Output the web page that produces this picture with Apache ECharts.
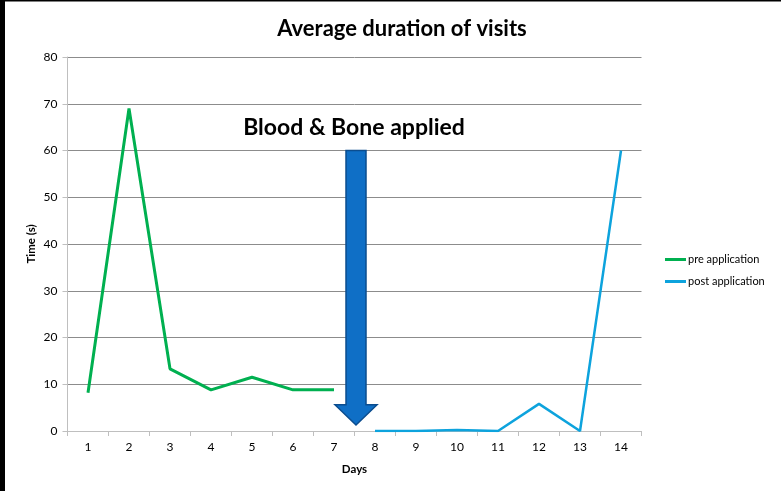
<!DOCTYPE html>
<html><head><meta charset="utf-8">
<script src="https://cdn.jsdelivr.net/npm/echarts@6/dist/echarts.min.js"></script>
<style>html,body{margin:0;padding:0;background:#fff}#c{width:781px;height:491px}</style>
</head><body><div id="c"></div>
<script>
const days = ['1','2','3','4','5','6','7','8','9','10','11','12','13','14'];
const preApplication = [8.2, 69, 13.3, 8.8, 11.5, 8.8, 8.8, null, null, null, null, null, null, null];
const postApplication = [null, null, null, null, null, null, null, 0, 0, 0.2, 0, 5.8, 0, 60];
const yTicks = [0, 10, 20, 30, 40, 50, 60, 70, 80];
const annotation = 'Blood & Bone applied';
const arrowFrom = 60, arrowTo = 1.3, arrowHeadStart = 5.6;

const FONT = 'Lato, "Open Sans", sans-serif';
const chart = echarts.init(document.getElementById('c'), null, {renderer: 'canvas'});
const option = {
  animation: false,
  backgroundColor: '#fff',
  textStyle: {fontFamily: FONT},
  title: {
    text: 'Average duration of visits', left: 397, top: 13, textAlign: 'center',
    textStyle: {fontFamily: FONT, fontSize: 22, fontWeight: 'bold', color: '#000'}
  },
  legend: {
    orient: 'vertical', left: 660, top: 249, itemWidth: 21, itemHeight: 3, itemGap: 11,
    icon: 'rect',
    textStyle: {fontFamily: FONT, fontSize: 11, color: '#000', padding: [0,0,0,-3]},
    data: ['pre application', 'post application']
  },
  grid: {left: 67.5, right: 139.5, top: 57, bottom: 60},
  xAxis: {
    type: 'category', data: days, boundaryGap: true,
    name: 'Days', nameLocation: 'middle', nameGap: 32,
    nameTextStyle: {fontFamily: FONT, fontSize: 11.5, fontWeight: 'bold', color: '#000'},
    axisLine: {lineStyle: {color: '#bfbfbf', width: 1}},
    axisTick: {show: true, length: 5, inside: false, alignWithLabel: false, lineStyle: {color: '#bfbfbf'}},
    axisLabel: {fontFamily: FONT, fontSize: 12, color: '#000', margin: 10, interval: 0}
  },
  yAxis: {
    type: 'value', min: yTicks[0], max: yTicks[yTicks.length-1], interval: 10,
    name: 'Time (s)', nameLocation: 'middle', nameGap: 30, nameRotate: 90, nameMoveOverlap: false,
    nameTextStyle: {fontFamily: FONT, fontSize: 11.5, fontWeight: 'bold', color: '#000'},
    axisLine: {show: true, lineStyle: {color: '#bfbfbf', width: 1}},
    axisTick: {show: true, length: 5, lineStyle: {color: '#bfbfbf'}},
    axisLabel: {fontFamily: FONT, fontSize: 12, color: '#000', margin: 10},
    splitLine: {lineStyle: {color: '#8c8c8c', width: 1}}
  },
  series: [
    {name: 'pre application', type: 'line', data: preApplication, symbol: 'none',
     lineStyle: {color: '#00b050', width: 3}, itemStyle: {color: '#00b050'}},
    {name: 'post application', type: 'line', data: postApplication, symbol: 'none',
     lineStyle: {color: '#0da3dd', width: 2.5}, itemStyle: {color: '#0da3dd'}}
  ]
};
chart.setOption(option);

function addArrow() {
  const x7 = chart.convertToPixel({xAxisIndex: 0}, 6);
  const x8 = chart.convertToPixel({xAxisIndex: 0}, 7);
  const cx = (x7 + x8) / 2 + 1.5;
  const yTop = chart.convertToPixel({yAxisIndex: 0}, arrowFrom);
  const yTip = chart.convertToPixel({yAxisIndex: 0}, arrowTo);
  const yHead = chart.convertToPixel({yAxisIndex: 0}, arrowHeadStart);
  const sw = 10, hw = 21;
  const pts = [[cx - sw, yTop], [cx + sw, yTop], [cx + sw, yHead], [cx + hw, yHead],
               [cx, yTip], [cx - hw, yHead], [cx - sw, yHead]];
  chart.setOption({
    graphic: [
      {type: 'rect', left: 0, top: 0, shape: {x: 0, y: 0, width: 5, height: 491}, style: {fill: '#000'}, z: 100},
      {type: 'rect', left: 0, top: 0, shape: {x: 0, y: 0, width: 781, height: 1.5}, style: {fill: '#000'}, z: 100},
      {type: 'polygon', shape: {points: pts}, style: {fill: '#0f6fc6', stroke: '#0b4d8f', lineWidth: 1.5}, z: 50},
      {type: 'text', x: cx - 2, y: chart.convertToPixel({yAxisIndex: 0}, 65), z: 60,
       style: {text: annotation, fontFamily: FONT, fontSize: 23, fontWeight: 'bold', fill: '#000',
               align: 'center', verticalAlign: 'middle'}}
    ]
  });
}
addArrow();
</script></body></html>
